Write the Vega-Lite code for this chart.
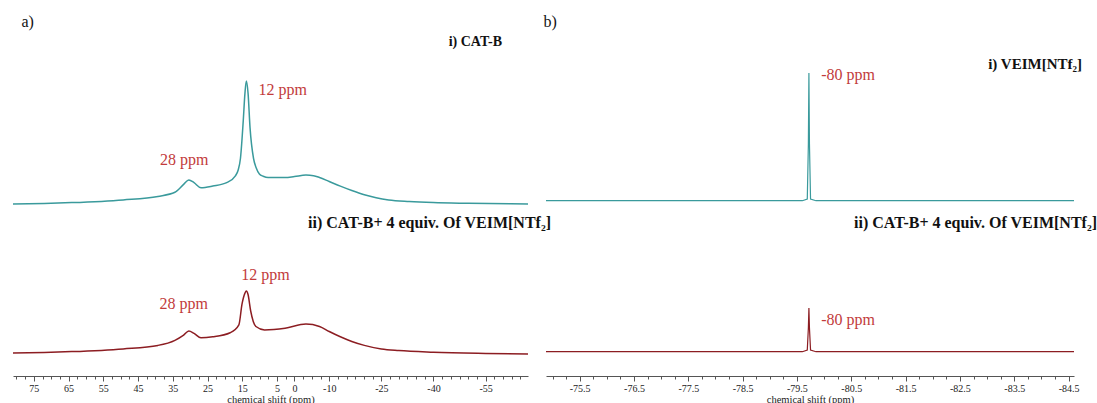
{
  "$schema": "https://vega.github.io/schema/vega-lite/v6.json",
  "background": "white",
  "padding": {"left": 10, "top": 13, "right": 0, "bottom": 0},
  "config": {"view": {"stroke": null}, "font": "Liberation Serif", "title": {"font": "Liberation Serif", "color": "#111"}},
  "datasets": {
    "a_i": [
      {"ppm": 81.0, "h": 0}, {"ppm": 72.0, "h": 0.6}, {"ppm": 64.1, "h": 1.4}, {"ppm": 49.3, "h": 4.1},
      {"ppm": 39.3, "h": 7.6}, {"ppm": 34.4, "h": 11.7}, {"ppm": 31.9, "h": 19.6}, {"ppm": 30.4, "h": 24.1},
      {"ppm": 28.9, "h": 21.3}, {"ppm": 26.9, "h": 16.2}, {"ppm": 23.5, "h": 17.9}, {"ppm": 19.5, "h": 21.3},
      {"ppm": 17.0, "h": 28.2}, {"ppm": 16.2, "h": 34.0}, {"ppm": 15.55, "h": 45.5}, {"ppm": 14.74, "h": 83.3},
      {"ppm": 14.25, "h": 110.9}, {"ppm": 13.85, "h": 122.9}, {"ppm": 13.36, "h": 110.9}, {"ppm": 12.79, "h": 76.4},
      {"ppm": 11.78, "h": 45.5}, {"ppm": 11.0, "h": 36.0}, {"ppm": 10.1, "h": 30.0}, {"ppm": 9.0, "h": 27.8},
      {"ppm": 7.6, "h": 26.5}, {"ppm": 2.7, "h": 26.5}, {"ppm": 0.0, "h": 27.5}, {"ppm": -3.3, "h": 28.9},
      {"ppm": -5.5, "h": 28.3}, {"ppm": -7.2, "h": 26.5}, {"ppm": -10.0, "h": 22.5}, {"ppm": -13.2, "h": 17.9},
      {"ppm": -16.5, "h": 13.5}, {"ppm": -20.1, "h": 9.3}, {"ppm": -23.5, "h": 6.3}, {"ppm": -27.1, "h": 4.1},
      {"ppm": -33.0, "h": 2.5}, {"ppm": -39.9, "h": 1.4}, {"ppm": -50.0, "h": 0.7}, {"ppm": -67.2, "h": 0}
    ],
    "a_ii": [
      {"ppm": 81.0, "h": 0}, {"ppm": 72.0, "h": 0.6}, {"ppm": 64.1, "h": 1.4}, {"ppm": 49.3, "h": 4.1},
      {"ppm": 39.3, "h": 7.6}, {"ppm": 34.4, "h": 12.7}, {"ppm": 31.9, "h": 17.9}, {"ppm": 30.4, "h": 22.0},
      {"ppm": 28.9, "h": 19.6}, {"ppm": 26.9, "h": 15.2}, {"ppm": 23.5, "h": 16.2}, {"ppm": 18.5, "h": 20.3},
      {"ppm": 16.0, "h": 28.2}, {"ppm": 15.1, "h": 48.9}, {"ppm": 14.25, "h": 59.9}, {"ppm": 13.85, "h": 62.0},
      {"ppm": 13.36, "h": 58.5}, {"ppm": 12.6, "h": 42.0}, {"ppm": 11.1, "h": 26.5}, {"ppm": 8.6, "h": 23.1},
      {"ppm": 2.7, "h": 24.8}, {"ppm": -3.3, "h": 28.9}, {"ppm": -7.2, "h": 26.5}, {"ppm": -10.0, "h": 21.5},
      {"ppm": -13.2, "h": 16.2}, {"ppm": -16.5, "h": 11.5}, {"ppm": -20.1, "h": 7.6}, {"ppm": -25.0, "h": 4.0},
      {"ppm": -30.0, "h": 2.4}, {"ppm": -40.0, "h": 0.8}, {"ppm": -55.0, "h": -0.4}, {"ppm": -67.2, "h": -1.0}
    ],
    "b_i": [
      {"ppm": -74.88, "h": 3.3}, {"ppm": -79.6, "h": 3.3}, {"ppm": -79.69, "h": 5}, {"ppm": -79.71, "h": 60},
      {"ppm": -79.72, "h": 131}, {"ppm": -79.73, "h": 60}, {"ppm": -79.75, "h": 5}, {"ppm": -79.85, "h": 3.3},
      {"ppm": -84.6, "h": 3.3}
    ],
    "b_ii": [
      {"ppm": -74.88, "h": 1.3}, {"ppm": -79.6, "h": 1.3}, {"ppm": -79.69, "h": 3}, {"ppm": -79.71, "h": 25},
      {"ppm": -79.72, "h": 45}, {"ppm": -79.73, "h": 25}, {"ppm": -79.75, "h": 3}, {"ppm": -79.85, "h": 1.3},
      {"ppm": -84.6, "h": 1.3}
    ],
    "lab_a_i": [{"ppm": 3.4, "h": 113.7, "t": "12 ppm"}, {"ppm": 31.7, "h": 44, "t": "28 ppm"}],
    "lab_a_ii": [{"ppm": 8.35, "h": 78, "t": "12 ppm"}, {"ppm": 31.9, "h": 48.6, "t": "28 ppm"}],
    "lab_b_i": [{"ppm": -80.44, "h": 129, "t": "-80 ppm"}],
    "lab_b_ii": [{"ppm": -80.44, "h": 33, "t": "-80 ppm"}]
  },
  "columns": 2,
  "spacing": {"row": 23, "column": 18},
  "bounds": "flush",
  "align": "each",
  "concat": [
    {
      "width": 515, "height": 160,
      "title": {"text": "i) CAT-B", "anchor": "end", "frame": "group", "fontSize": 14, "fontWeight": "bold", "dx": -26, "dy": 40},
      "layer": [
        {
          "data": {"name": "a_i"},
          "mark": {"type": "line", "color": "#3a9a9c", "strokeWidth": 1.5, "interpolate": "monotone"},
          "encoding": {
            "x": {"field": "ppm", "type": "quantitative", "scale": {"domain": [-67.2, 81], "reverse": true, "nice": false, "zero": false},
              "axis": {"orient": "top", "title": "a)", "domain": false, "ticks": false, "labels": false, "grid": false,
                "titleFont": "Liberation Serif", "titleFontSize": 16, "titleFontWeight": "normal", "titleColor": "#111",
                "titleAnchor": "start", "titleAlign": "left", "titleX": 8, "titlePadding": 21}},
            "y": {"field": "h", "type": "quantitative", "scale": {"domain": [-6, 154], "nice": false, "zero": false}, "axis": null}
          }
        },
        {
          "data": {"name": "lab_a_i"},
          "mark": {"type": "text", "color": "#c23b3b", "fontSize": 16, "font": "Liberation Serif", "align": "center", "baseline": "middle"},
          "encoding": {
            "x": {"field": "ppm", "type": "quantitative"},
            "y": {"field": "h", "type": "quantitative"},
            "text": {"field": "t"}
          }
        }
      ]
    },
    {
      "width": 528, "height": 160,
      "title": {"text": "i) VEIM[NTf₂]", "anchor": "end", "frame": "group", "fontSize": 15, "fontWeight": "bold", "dx": 8, "dy": 63},
      "layer": [
        {
          "data": {"name": "b_i"},
          "mark": {"type": "line", "color": "#3a9a9c", "strokeWidth": 1.2},
          "encoding": {
            "x": {"field": "ppm", "type": "quantitative", "scale": {"domain": [-84.6, -74.88], "reverse": true, "nice": false, "zero": false},
              "axis": {"orient": "top", "title": "b)", "domain": false, "ticks": false, "labels": false, "grid": false,
                "titleFont": "Liberation Serif", "titleFontSize": 16, "titleFontWeight": "normal", "titleColor": "#111",
                "titleAnchor": "start", "titleAlign": "left", "titleX": -3, "titlePadding": 21}},
            "y": {"field": "h", "type": "quantitative", "scale": {"domain": [-6, 154], "nice": false, "zero": false}, "axis": null}
          }
        },
        {
          "data": {"name": "lab_b_i"},
          "mark": {"type": "text", "color": "#c23b3b", "fontSize": 16, "font": "Liberation Serif", "align": "center", "baseline": "middle"},
          "encoding": {
            "x": {"field": "ppm", "type": "quantitative"},
            "y": {"field": "h", "type": "quantitative"},
            "text": {"field": "t"}
          }
        }
      ]
    },
    {
      "width": 515, "height": 143,
      "title": {"text": "ii) CAT-B+ 4 equiv. Of VEIM[NTf₂]", "anchor": "end", "frame": "group", "fontSize": 16, "fontWeight": "bold", "dx": 23, "dy": 2},
      "layer": [
        {
          "data": {"name": "a_ii"},
          "mark": {"type": "line", "color": "#8c1d22", "strokeWidth": 1.5, "interpolate": "monotone"},
          "encoding": {
            "x": {"field": "ppm", "type": "quantitative", "scale": {"domain": [-67.2, 81], "reverse": true, "nice": false, "zero": false},
              "axis": {
                "title": "chemical shift (ppm)",
                "tickCount": 200,
                "values": [80,77.5,75,72.5,70,67.5,65,62.5,60,57.5,55,52.5,50,47.5,45,42.5,40,37.5,35,32.5,30,27.5,25,22.5,20,17.5,15,12.5,10,7.5,5,2.5,0,-2.5,-5,-7.5,-10,-12.5,-15,-17.5,-20,-22.5,-25,-27.5,-30,-32.5,-35,-37.5,-40,-42.5,-45,-47.5,-50,-52.5,-55,-57.5,-60,-62.5,-65],
                "labelExpr": "indexof([75,65,55,45,35,25,15,5,0,-10,-25,-40,-55], datum.value) >= 0 ? '' + datum.value : ''",
                "tickSize": {"condition": {"test": "indexof([75,65,55,45,35,25,15,5,0,-10,-25,-40,-55], datum.value) >= 0", "value": 5}, "value": 3},
                "labelFont": "Liberation Serif", "labelFontSize": 10, "labelColor": "#222", "labelPadding": 2,
                "titleFont": "Liberation Serif", "titleFontSize": 10.5, "titleFontWeight": "normal", "titleColor": "#222", "titlePadding": 1,
                "domainColor": "#555", "tickColor": "#555", "grid": false, "labelFlush": false, "labelOverlap": false
              }
            },
            "y": {"field": "h", "type": "quantitative", "scale": {"domain": [-23, 120], "nice": false, "zero": false}, "axis": null}
          }
        },
        {
          "data": {"name": "lab_a_ii"},
          "mark": {"type": "text", "color": "#c23b3b", "fontSize": 16, "font": "Liberation Serif", "align": "center", "baseline": "middle"},
          "encoding": {
            "x": {"field": "ppm", "type": "quantitative"},
            "y": {"field": "h", "type": "quantitative"},
            "text": {"field": "t"}
          }
        }
      ]
    },
    {
      "width": 528, "height": 143,
      "title": {"text": "ii) CAT-B+ 4 equiv. Of VEIM[NTf₂]", "anchor": "end", "frame": "group", "fontSize": 16, "fontWeight": "bold", "dx": 23, "dy": 2},
      "layer": [
        {
          "data": {"name": "b_ii"},
          "mark": {"type": "line", "color": "#8c1d22", "strokeWidth": 1.2},
          "encoding": {
            "x": {"field": "ppm", "type": "quantitative", "scale": {"domain": [-84.6, -74.88], "reverse": true, "nice": false, "zero": false},
              "axis": {
                "title": "chemical shift (ppm)",
                "tickCount": 200,
                "values": [-75,-75.25,-75.5,-75.75,-76,-76.25,-76.5,-76.75,-77,-77.25,-77.5,-77.75,-78,-78.25,-78.5,-78.75,-79,-79.25,-79.5,-79.75,-80,-80.25,-80.5,-80.75,-81,-81.25,-81.5,-81.75,-82,-82.25,-82.5,-82.75,-83,-83.25,-83.5,-83.75,-84,-84.25,-84.5],
                "labelExpr": "indexof([-75.5,-76.5,-77.5,-78.5,-79.5,-80.5,-81.5,-82.5,-83.5,-84.5], datum.value) >= 0 ? '' + datum.value : ''",
                "tickSize": {"condition": {"test": "indexof([-75.5,-76.5,-77.5,-78.5,-79.5,-80.5,-81.5,-82.5,-83.5,-84.5], datum.value) >= 0", "value": 5}, "value": 3},
                "labelFont": "Liberation Serif", "labelFontSize": 10, "labelColor": "#222", "labelPadding": 2,
                "titleFont": "Liberation Serif", "titleFontSize": 10.5, "titleFontWeight": "normal", "titleColor": "#222", "titlePadding": 1,
                "domainColor": "#555", "tickColor": "#555", "grid": false, "labelFlush": false, "labelOverlap": false
              }
            },
            "y": {"field": "h", "type": "quantitative", "scale": {"domain": [-23, 120], "nice": false, "zero": false}, "axis": null}
          }
        },
        {
          "data": {"name": "lab_b_ii"},
          "mark": {"type": "text", "color": "#c23b3b", "fontSize": 16, "font": "Liberation Serif", "align": "center", "baseline": "middle"},
          "encoding": {
            "x": {"field": "ppm", "type": "quantitative"},
            "y": {"field": "h", "type": "quantitative"},
            "text": {"field": "t"}
          }
        }
      ]
    }
  ]
}
